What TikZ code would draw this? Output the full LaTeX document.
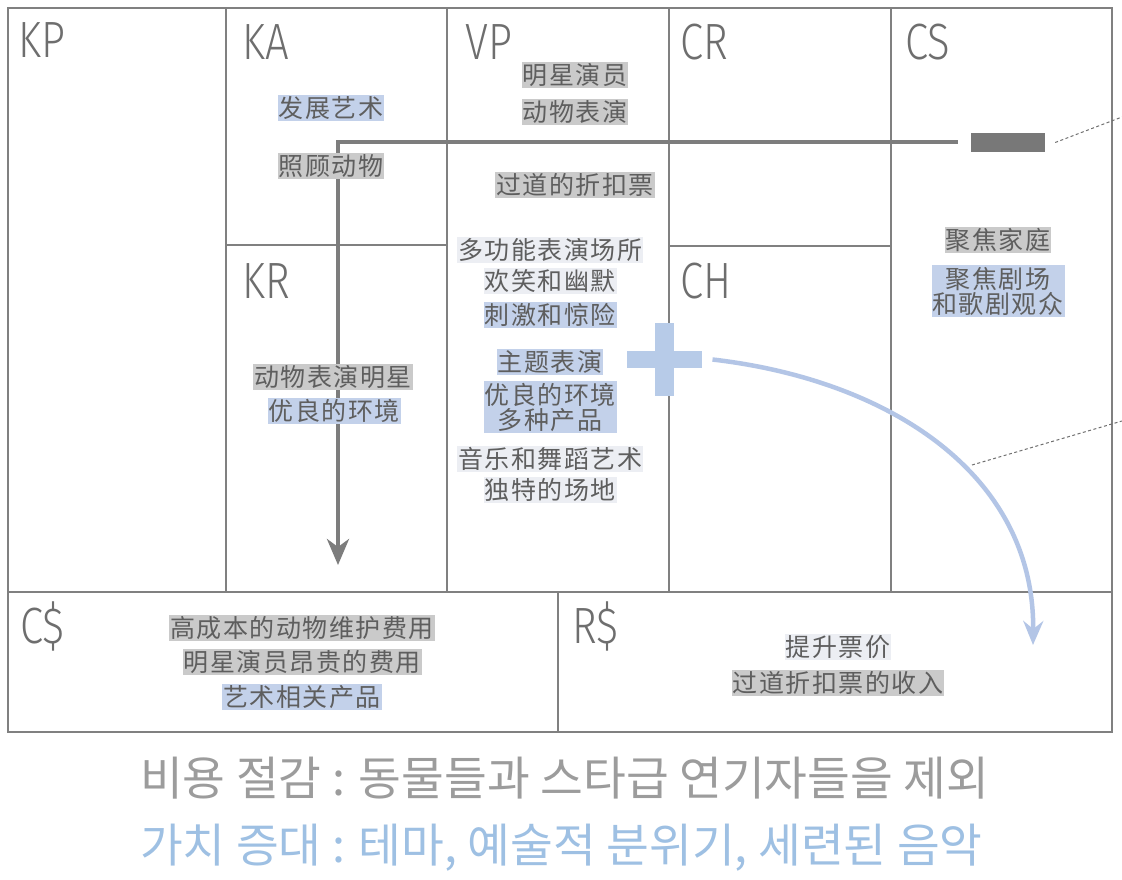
\documentclass[tikz,border=0pt]{standalone}
\usepackage{fontspec}
\setmainfont{Noto Sans CJK SC}[LetterSpace=6]
\newfontfamily\krfont{Noto Sans CJK KR}
\newfontfamily\hdfont{Fira Sans Light}[FakeStretch=0.82]
\usetikzlibrary{arrows.meta}
\definecolor{framegray}{HTML}{808080}
\definecolor{hdrgray}{HTML}{6E6E6E}
\definecolor{txtgray}{HTML}{5E5E5E}
\definecolor{hlgray}{HTML}{CACACA}
\definecolor{hlblue}{HTML}{C3D1EA}
\definecolor{hllight}{HTML}{ECEEF3}
\definecolor{arrowgray}{HTML}{7D7D7D}
\definecolor{plusblue}{HTML}{B7CBE8}
\definecolor{curveblue}{HTML}{B3C5E6}
\definecolor{kgray}{HTML}{9C9C9C}
\definecolor{kblue}{HTML}{9EC0E3}
\definecolor{dashgray}{HTML}{707070}
\definecolor{rectgray}{HTML}{787878}
\tikzset{
  frame/.style={draw=framegray, line width=1.5pt},
  hdr/.style={anchor=base west, inner sep=0pt, text=hdrgray, font=\hdfont\fontsize{51}{51}\selectfont},
  txt/.style={inner xsep=1pt, inner ysep=1.5pt, text=txtgray, align=center, font=\fontsize{25}{28}\selectfont},
  gbg/.style={txt, fill=hlgray},
  bbg/.style={txt, fill=hlblue},
  lbg/.style={txt, fill=hllight},
  korean/.style={anchor=west, inner sep=0pt, font=\krfont\fontsize{46.5}{46.5}\selectfont},
  grayarrow/.style={draw=arrowgray, line width=4pt, -{Stealth[length=26pt, width=22pt, inset=8pt]}},
  bluearrow/.style={draw=curveblue, line width=4.5pt, -{Stealth[length=24pt, width=20pt, inset=8pt]}},
  dashline/.style={draw=dashgray, line width=1pt, dash pattern=on 3pt off 2.5pt},
}
\begin{document}
\begin{tikzpicture}[x=1pt, y=-1pt]
\useasboundingbox (0,0) rectangle (1122,880);
\fill[white] (0,0) rectangle (1122,880);
% grid
\draw[frame] (8,8) rectangle (1112,732);
\draw[frame] (8,592) -- (1112,592);
\draw[frame] (226,8) -- (226,592);
\draw[frame] (447,8) -- (447,592);
\draw[frame] (669,8) -- (669,592);
\draw[frame] (891,8) -- (891,592);
\draw[frame] (558,592) -- (558,732);
\draw[frame] (226,245) -- (447,245);
\draw[frame] (669,246) -- (891,246);
% headers
\node[hdr] (hKP) at (18,58) {KP};
\node[hdr] (hKA) at (242,60) {KA};
\node[hdr] (hVP) at (465,60) {VP};
\node[hdr] (hCR) at (680,60) {CR};
\node[hdr] (hCS) at (905,60) {CS};
\node[hdr] (hKR) at (242,298) {KR};
\node[hdr] (hCH) at (680,298) {CH};
\node[hdr] (hCC) at (20,643) {C\$};
\node[hdr] (hRR) at (572,643) {R\$};
% gray arrow from CS rectangle to KR
\node[fill=rectgray, minimum width=74pt, minimum height=19pt, inner sep=0pt] (rect) at (1008,142.5) {};
\coordinate (grayend) at (338,565);
\draw[grayarrow] ([xshift=-13pt]rect.west) -| (grayend);
% dashed lines
\coordinate (d1) at (1122,117);
\coordinate (d2s) at (972,465);
\coordinate (d2) at (1122,421);
\draw[dashline] ([xshift=10pt]rect.east) -- (d1);
\draw[dashline] (d2s) -- (d2);
% KA
\node[bbg] (ka1) at (331,108) {发展艺术};
\node[gbg] (ka2) at (331,166) {照顾动物};
% KR
\node[gbg] (kr1) at (333,377) {动物表演明星};
\node[bbg] (kr2) at (334,411) {优良的环境};
% VP
\node[gbg] (vp1) at (575,75) {明星演员};
\node[gbg] (vp2) at (575,112) {动物表演};
\node[gbg] (vp3) at (575,185) {过道的折扣票};
\node[lbg] (vp4) at (550,250) {多功能表演场所};
\node[lbg] (vp5) at (550,281) {欢笑和幽默};
\node[bbg] (vp6) at (550,315) {刺激和惊险};
\node[bbg] (vp7) at (550,362) {主题表演};
\node[bbg] (vp8) at (550,407) {优良的环境\\[-3pt]多种产品};
\node[lbg] (vp9) at (550,459) {音乐和舞蹈艺术};
\node[lbg] (vp10) at (550,490) {独特的场地};
% CS
\node[gbg] (cs1) at (998,240) {聚焦家庭};
\node[bbg] (cs2) at (998,291) {聚焦剧场\\[-3pt]和歌剧观众};
% C$
\node[gbg] (c1) at (302,628) {高成本的动物维护费用};
\node[gbg] (c2) at (302,662) {明星演员昂贵的费用};
\node[bbg] (c3) at (302,697) {艺术相关产品};
% R$
\node[lbg] (r1) at (838,647) {提升票价};
\node[gbg] (r2) at (838,683) {过道折扣票的收入};
% plus sign
\fill[plusblue] (627,351) rectangle (702,368);
\fill[plusblue] (655,323) rectangle (674,396);
\coordinate (plus) at (664.5,359.5);
\coordinate (blueend) at (1033,645);
\draw[bluearrow] ([xshift=48pt]plus) .. controls (890,380) and (1035,475) .. (blueend);
% Korean lines
\node[korean, text=kgray] (k1) at (140,778) {비용 절감 : 동물들과 스타급 연기자들을 제외};
\node[korean, text=kblue] (k2) at (140,848) {가치 증대 : 테마, 예술적 분위기, 세련된 음악};
\end{tikzpicture}
\end{document}
